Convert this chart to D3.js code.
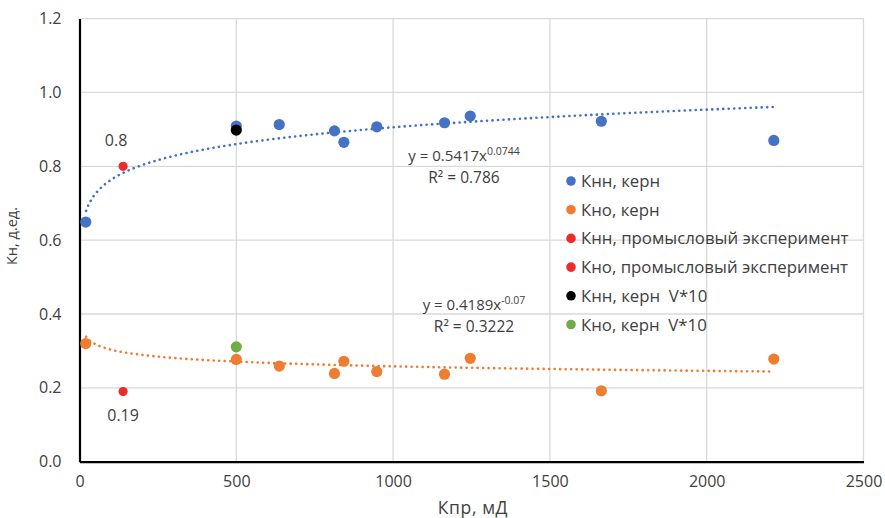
<!DOCTYPE html>
<html><head><meta charset="utf-8">
<script src="https://cdn.jsdelivr.net/npm/d3@7"></script>
<style>body{margin:0;background:#fff}svg{display:block}text{font-family:"Open Sans",sans-serif;fill:#404040;white-space:pre}</style>
</head><body><svg id="c" width="885" height="518"></svg>
<script>
// Data
const knnCoreX = [20, 500, 637, 813, 843, 948, 1164, 1246, 1664, 2214];
const knnCoreY = [0.649, 0.909, 0.913, 0.896, 0.865, 0.907, 0.918, 0.936, 0.922, 0.870];
const knoCoreX = [20, 500, 637, 813, 843, 948, 1164, 1246, 1664, 2214];
const knoCoreY = [0.320, 0.277, 0.259, 0.239, 0.272, 0.244, 0.237, 0.280, 0.192, 0.278];
const knnFieldX = [139], knnFieldY = [0.80];
const knoFieldX = [139], knoFieldY = [0.19];
const knnV10X = [500], knnV10Y = [0.898];
const knoV10X = [500], knoV10Y = [0.311];
const trendKnn = [0.5417, 0.0744]; // y = a*x^b
const trendKno = [0.4189, -0.07];
const xTicks = [0, 500, 1000, 1500, 2000, 2500];
const yTicks = [0, 0.2, 0.4, 0.6, 0.8, 1.0, 1.2];
const legendLabels = ["Кнн, керн", "Кно, керн", "Кнн, промысловый эксперимент", "Кно, промысловый эксперимент", "Кнн, керн  V*10", "Кно, керн  V*10"];
const colors = ["#4472C4", "#ED7D31", "#EE2B2B", "#EE2B2B", "#000000", "#70AD47"];

const svg = d3.select("#c");
const x = d3.scaleLinear().domain([0, 2500]).range([79.5, 863.5]);
const y = d3.scaleLinear().domain([0, 1.2]).range([461.7, 18.6]);

// gridlines
svg.append("g").selectAll("line").data(yTicks.slice(1)).join("line")
  .attr("x1", x(0)).attr("x2", x(2500)).attr("y1", d => y(d)).attr("y2", d => y(d))
  .attr("stroke", "#d9d9d9").attr("stroke-width", 1.3);
svg.append("g").selectAll("line").data(xTicks.slice(1)).join("line")
  .attr("y1", y(0)).attr("y2", y(1.2)).attr("x1", d => x(d)).attr("x2", d => x(d))
  .attr("stroke", "#d9d9d9").attr("stroke-width", 1.3);

// axes
const xAxis = d3.axisBottom(x).tickValues(xTicks).tickSize(0).tickPadding(14).tickFormat(d3.format("d"));
const gx = svg.append("g").attr("transform", `translate(0,${y(0)})`).call(xAxis);
gx.select(".domain").attr("stroke", "#000").attr("stroke-width", 2.2);
gx.selectAll("text").attr("font-size", 16).attr("font-family", "Open Sans").attr("fill", "#404040");
const yAxis = d3.axisLeft(y).tickValues(yTicks).tickSize(0).tickPadding(18).tickFormat(d3.format(".1f"));
const gy = svg.append("g").attr("transform", `translate(${x(0)},0)`).call(yAxis);
gy.select(".domain").attr("stroke", "#000").attr("stroke-width", 2.2);
gy.selectAll("text").attr("font-size", 16).attr("font-family", "Open Sans").attr("fill", "#404040");

// axis titles
svg.append("text").attr("x", 473).attr("y", 514).attr("text-anchor", "middle").attr("font-size", 17.5).attr("letter-spacing", 0.6).text("Кпр, мД");
svg.append("text").attr("transform", "translate(17,236) rotate(-90)").attr("text-anchor", "middle").attr("font-size", 14.5).text("Кн, д.ед.");

// trendlines
function trend(coef, x0, x1) {
  const pts = d3.range(0, 201).map(i => { const xv = x0 * Math.pow(x1 / x0, i / 200); return [xv, coef[0] * Math.pow(xv, coef[1])]; });
  return d3.line().x(d => x(d[0])).y(d => y(d[1]))(pts);
}
svg.append("path").attr("d", trend(trendKnn, 21, 2214)).attr("fill", "none").attr("stroke", colors[0])
  .attr("stroke-width", 2.6).attr("stroke-dasharray", "0.1 5.4").attr("stroke-linecap", "round");
svg.append("path").attr("d", trend(trendKno, 21, 2214)).attr("fill", "none").attr("stroke", colors[1])
  .attr("stroke-width", 2.6).attr("stroke-dasharray", "0.1 5.4").attr("stroke-linecap", "round");

// points
function pts(xs, ys, col, r) {
  svg.append("g").selectAll("circle").data(xs.map((v, i) => [v, ys[i]])).join("circle")
    .attr("cx", d => x(d[0])).attr("cy", d => y(d[1])).attr("r", r).attr("fill", col);
}
pts(knnCoreX, knnCoreY, colors[0], 5.6);
pts(knoCoreX, knoCoreY, colors[1], 5.6);
pts(knnFieldX, knnFieldY, colors[2], 4.6);
pts(knoFieldX, knoFieldY, colors[3], 4.6);
pts(knnV10X, knnV10Y, colors[4], 5.6);
pts(knoV10X, knoV10Y, colors[5], 5.6);

// data labels
svg.append("text").attr("x", x(knnFieldX[0]) - 7).attr("y", y(knnFieldY[0]) - 20).attr("text-anchor", "middle").attr("font-size", 16).text(knnFieldY[0].toFixed(1));
svg.append("text").attr("x", x(knoFieldX[0])).attr("y", y(knoFieldY[0]) + 29).attr("text-anchor", "middle").attr("font-size", 16).text(knoFieldY[0].toFixed(2));

// equations
function eq(cx, cy, a, b, r2) {
  const t = svg.append("text").attr("x", cx).attr("y", cy).attr("text-anchor", "middle").attr("font-size", 15);
  t.append("tspan").text(`y = ${a}x`);
  t.append("tspan").attr("dy", -6).attr("font-size", 10.5).text(b);
  svg.append("text").attr("x", cx + 0).attr("y", cy + 22).attr("text-anchor", "middle").attr("font-size", 15.5).text(`R² = ${r2}`);
}
eq(464, 161, trendKnn[0], trendKnn[1], "0.786");
eq(474, 310, trendKno[0], trendKno[1], "0.3222");

// legend
const lg = svg.append("g").selectAll("g").data(legendLabels).join("g")
  .attr("transform", (d, i) => `translate(571,${181 + i * 28.7})`);
lg.append("circle").attr("r", 4.8).attr("fill", (d, i) => colors[i]);
lg.append("text").attr("x", 10).attr("y", 6).attr("font-size", 16.8).text(d => d);
</script></body></html>
